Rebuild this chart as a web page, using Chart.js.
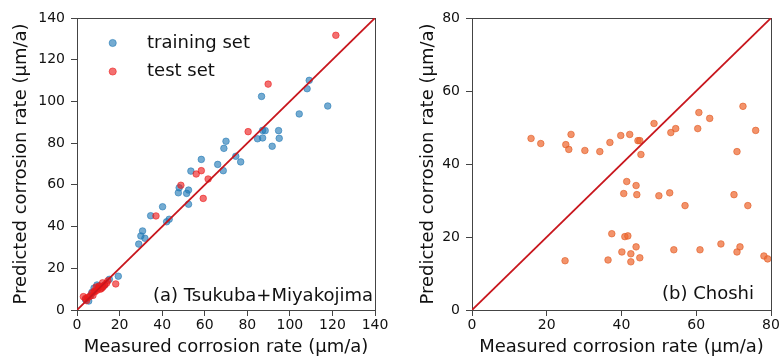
<!DOCTYPE html>
<html>
<head>
<meta charset="utf-8">
<script src="https://cdn.jsdelivr.net/npm/chart.js@4.4.0/dist/chart.umd.min.js"></script>
<style>
    body { margin: 0; background: #fff; }
    .panel { position: absolute; top: 0; width: 391px; height: 358px; }
</style>
</head>
<body>
<div class="panel" style="left:0"><canvas id="chartA" width="391" height="358"></canvas></div>
<div class="panel" style="left:391px"><canvas id="chartB" width="391" height="358"></canvas></div>
<script>
// (a) Tsukuba+Miyakojima
const trainMeasured = [109.1, 108.1, 117.8, 86.7, 104.4, 87.2, 88.4, 94.7, 84.8, 87.2, 95.0, 91.7,
    70.0, 69.0, 74.6, 76.9, 58.4, 66.1, 68.7, 53.5, 48.0, 47.6, 52.4, 51.5, 52.4, 40.2, 34.6,
    42.1, 43.3, 30.8, 30.0, 31.9, 29.0, 19.4, 15.2, 9.4, 5.5, 8.0, 10.5, 12.0, 6.5, 4.0, 7.0, 13.0];
const trainPredicted = [110.1, 106.1, 97.8, 102.4, 94.0, 86.1, 86.0, 86.0, 82.1, 82.5, 82.3, 78.5,
    80.9, 77.5, 73.7, 71.0, 72.2, 69.8, 66.8, 66.6, 58.6, 56.2, 57.5, 55.9, 50.7, 49.5, 45.2,
    42.3, 43.5, 37.9, 35.5, 34.4, 31.6, 16.2, 14.7, 12.0, 4.3, 10.5, 11.5, 11.0, 7.0, 5.0, 8.5, 12.0];
const testMeasured = [121.6, 89.8, 80.4, 56.0, 58.4, 61.6, 48.8, 59.3, 37.1, 18.2, 3.0, 4.0, 5.0,
    6.0, 7.0, 8.0, 8.5, 9.5, 10.0, 11.0, 11.6, 12.3, 13.0, 13.9, 12.0, 10.5, 7.5, 14.5, 9.0, 4.5];
const testPredicted = [131.7, 108.3, 85.5, 65.2, 66.8, 62.8, 59.8, 53.5, 45.1, 12.5, 6.4, 5.5, 6.0,
    6.5, 8.0, 9.0, 8.8, 9.5, 10.5, 10.0, 10.4, 11.2, 12.0, 12.8, 13.0, 11.5, 7.0, 14.0, 11.0, 4.5];
const ticksA = [0, 20, 40, 60, 80, 100, 120, 140];

// (b) Choshi
const choshiMeasured = [15.8, 18.4, 25.1, 26.5, 25.9, 30.2, 34.2, 36.9, 39.8, 42.2, 44.4, 44.9,
    45.2, 48.7, 53.2, 54.5, 60.4, 60.7, 63.6, 70.9, 72.5, 75.9,
    41.4, 43.9, 40.6, 44.1, 50.0, 52.9, 57.0, 70.1, 73.8,
    24.9, 37.4, 36.4, 40.9, 41.7, 40.1, 43.9, 42.5, 42.5, 44.9, 54.0, 61.0, 66.6, 71.7, 70.9, 78.1, 79.1];
const choshiPredicted = [47.0, 45.6, 45.3, 48.1, 44.0, 43.7, 43.4, 45.9, 47.8, 48.1, 46.4, 46.4,
    42.6, 51.1, 48.6, 49.7, 49.7, 54.1, 52.5, 43.4, 55.8, 49.2,
    35.2, 34.1, 31.9, 31.6, 31.3, 32.1, 28.6, 31.6, 28.6,
    13.5, 20.9, 13.7, 20.1, 20.3, 15.9, 17.3, 15.4, 13.2, 14.3, 16.5, 16.5, 18.1, 17.3, 15.9, 14.8, 14.0];
const ticksB = [0, 20, 40, 60, 80];

const FONT = '"DejaVu Sans", sans-serif';
const INK = '#111';
const FRAME = '#444';

function toPoints(xs, ys) {
    return xs.map((x, i) => ({ x: x, y: ys[i] }));
}

function diagonal(ticks) {
    const lo = ticks[0], hi = ticks[ticks.length - 1];
    return [{ x: lo, y: lo }, { x: hi, y: hi }];
}

// text labels inside the plot: legend and panel caption
const panelText = {
    id: 'panelText',
    afterDraw(chart, args, opts) {
        const ctx = chart.ctx;
        const area = chart.chartArea;
        ctx.save();
        ctx.font = '18px ' + FONT;
        ctx.fillStyle = INK;
        ctx.textBaseline = 'alphabetic';
        ctx.textAlign = 'right';
        ctx.fillText(opts.caption, area.right - opts.captionRight, area.bottom - opts.captionBottom);
        if (opts.legend) {
            let row = 0;
            chart.data.datasets.forEach(ds => {
                if (ds.type === 'line') return;
                const y = area.top + 25 + row * 28.5;
                ctx.beginPath();
                ctx.arc(area.left + 35.7, y, 3.6, 0, Math.PI * 2);
                ctx.fillStyle = ds.backgroundColor;
                ctx.fill();
                ctx.lineWidth = 0.8;
                ctx.strokeStyle = ds.borderColor;
                ctx.stroke();
                ctx.fillStyle = INK;
                ctx.textAlign = 'left';
                ctx.textBaseline = 'middle';
                ctx.fillText(ds.label, area.left + 70, y);
                row++;
            });
        }
        ctx.restore();
    }
};

function makeScales(ticks, yAxisWidth, yTitlePad) {
    const lo = ticks[0], hi = ticks[ticks.length - 1];
    const tickFont = { family: FONT, size: 14 };
    const titleFont = { family: FONT, size: 18 };
    const gridOpts = { display: true, drawOnChartArea: false, drawTicks: true, tickLength: 6, tickColor: FRAME };
    return {
        x: {
            type: 'linear', position: 'bottom', min: lo, max: hi,
            ticks: { stepSize: ticks[1] - ticks[0], font: tickFont, color: INK, padding: 1 },
            grid: gridOpts,
            border: { display: true, color: FRAME, width: 1 },
            title: { display: true, text: 'Measured corrosion rate (\u00b5m/a)', font: titleFont, color: INK, padding: { top: 0, bottom: 0 } },
            afterFit(s) { s.height = 48; }
        },
        y: {
            type: 'linear', position: 'left', min: lo, max: hi,
            ticks: { stepSize: ticks[1] - ticks[0], font: tickFont, color: INK, padding: 6 },
            grid: gridOpts,
            border: { display: true, color: FRAME, width: 1 },
            title: { display: true, text: 'Predicted corrosion rate (\u00b5m/a)', font: titleFont, color: INK, padding: { top: yTitlePad, bottom: 0 } },
            afterFit(s) { s.width = yAxisWidth; }
        },
        xTop: {
            type: 'linear', position: 'top', min: lo, max: hi,
            ticks: { display: false }, grid: { display: false },
            border: { display: true, color: FRAME, width: 1 },
            afterFit(s) { s.height = 0; }
        },
        yRight: {
            type: 'linear', position: 'right', min: lo, max: hi,
            ticks: { display: false }, grid: { display: false },
            border: { display: true, color: FRAME, width: 1 },
            afterFit(s) { s.width = 0; }
        }
    };
}

function lineDataset(ticks) {
    return {
        type: 'line', label: 'y = x', data: diagonal(ticks),
        borderColor: '#c8161d', borderWidth: 1.8, pointRadius: 0, fill: false, order: 0
    };
}

new Chart(document.getElementById('chartA'), {
    type: 'scatter',
    data: {
        datasets: [
            {
                label: 'training set', data: toPoints(trainMeasured, trainPredicted),
                backgroundColor: 'rgba(31,119,180,0.62)', borderColor: 'rgba(31,119,180,0.7)',
                borderWidth: 0.8, pointRadius: 3.3, order: 2
            },
            {
                label: 'test set', data: toPoints(testMeasured, testPredicted),
                backgroundColor: 'rgba(235,25,25,0.62)', borderColor: 'rgba(235,25,25,0.7)',
                borderWidth: 0.8, pointRadius: 3.3, order: 1
            },
            lineDataset(ticksA)
        ]
    },
    options: {
        responsive: false, animation: false, devicePixelRatio: 1,
        layout: { padding: { left: 0, right: 16, top: 18, bottom: 0 } },
        scales: makeScales(ticksA, 77, 10.7),
        plugins: {
            legend: { display: false }, tooltip: { enabled: false },
            panelText: { caption: '(a) Tsukuba+Miyakojima', captionRight: 2, captionBottom: 9, legend: true }
        }
    },
    plugins: [panelText]
});

new Chart(document.getElementById('chartB'), {
    type: 'scatter',
    data: {
        datasets: [
            {
                label: 'Choshi', data: toPoints(choshiMeasured, choshiPredicted),
                backgroundColor: 'rgba(238,105,50,0.72)', borderColor: 'rgba(225,95,40,0.8)',
                borderWidth: 0.8, pointRadius: 3.3, order: 1
            },
            lineDataset(ticksB)
        ]
    },
    options: {
        responsive: false, animation: false, devicePixelRatio: 1,
        layout: { padding: { left: 0, right: 11, top: 18, bottom: 0 } },
        scales: makeScales(ticksB, 81, 27),
        plugins: {
            legend: { display: false }, tooltip: { enabled: false },
            panelText: { caption: '(b) Choshi', captionRight: 17, captionBottom: 11, legend: false }
        }
    },
    plugins: [panelText]
});
</script>
</body>
</html>
